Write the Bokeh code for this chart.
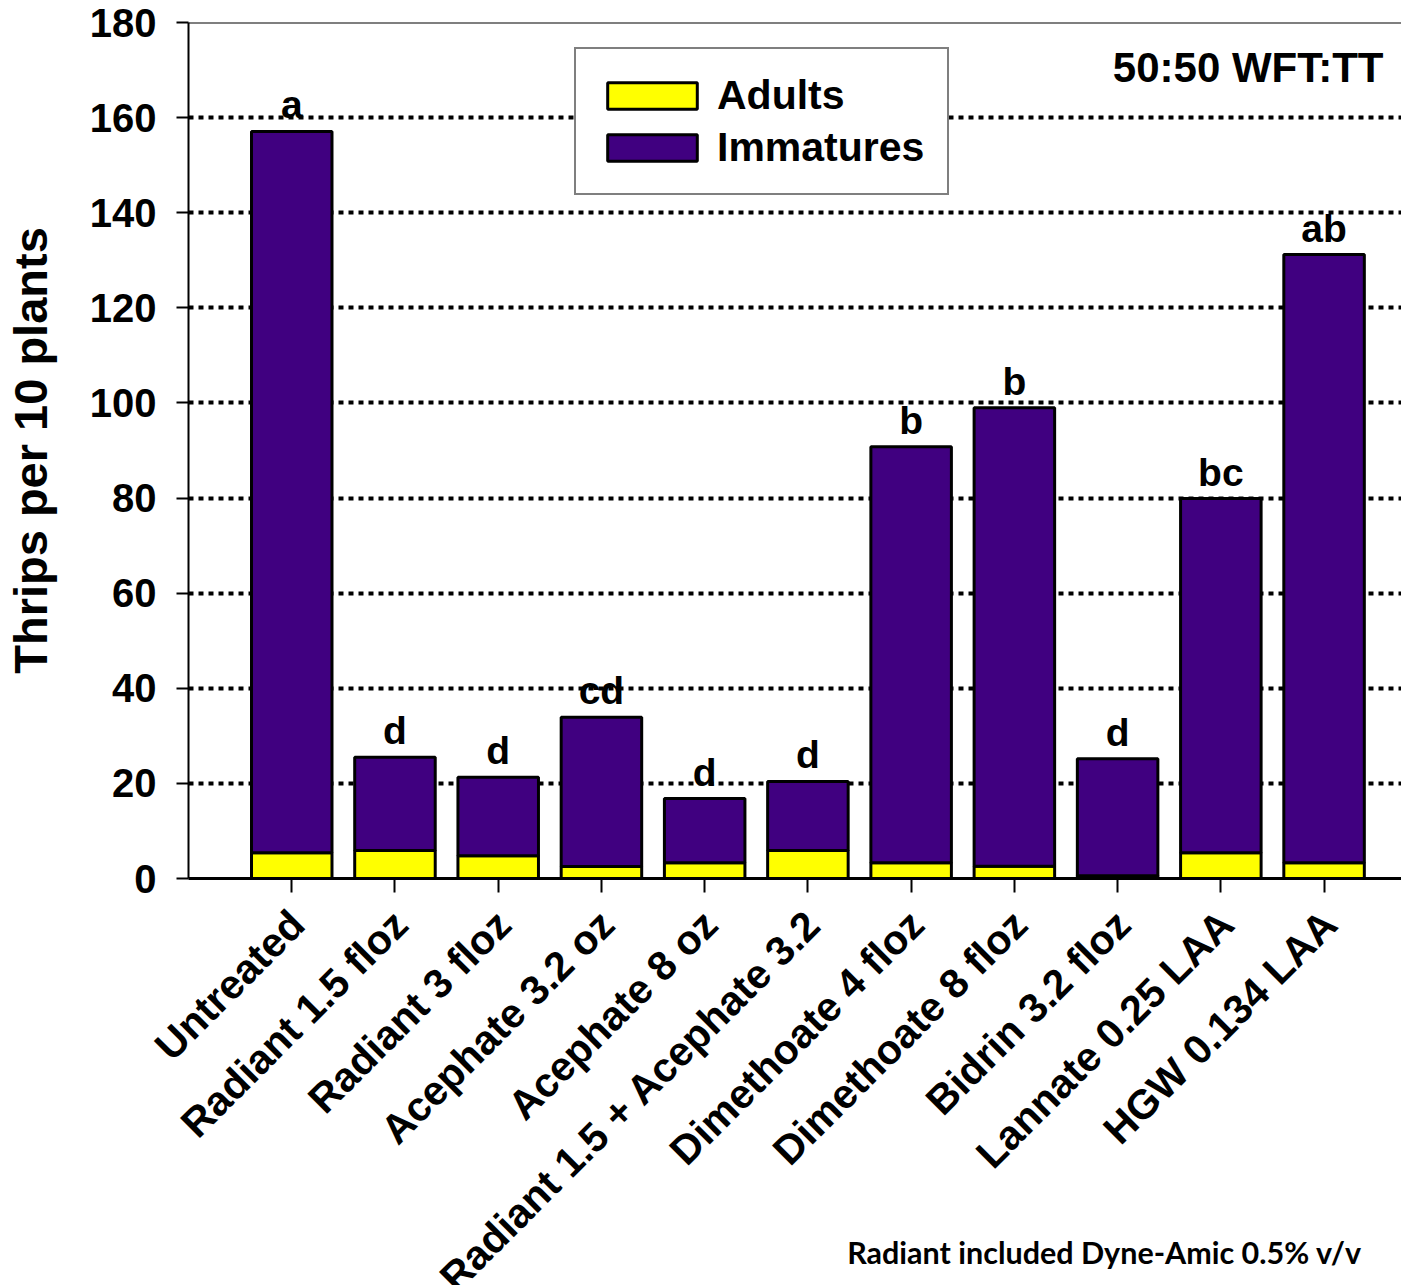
import math
from bokeh.plotting import figure
from bokeh.models import (ColumnDataSource, Range1d, SingleIntervalTicker, FixedTicker,
                          LabelSet, Label, Span, LinearAxis)
from bokeh.core.properties import value
from bokeh.embed import file_html
from bokeh.resources import INLINE

categories = ["Untreated", "Radiant 1.5 floz", "Radiant 3 floz", "Acephate 3.2 oz",
              "Acephate 8 oz", "Radiant 1.5 + Acephate 3.2", "Dimethoate 4 floz",
              "Dimethoate 8 floz", "Bidrin 3.2 floz", "Lannate 0.25 LAA", "HGW 0.134 LAA"]
adults = [5.4, 5.9, 4.8, 2.5, 3.3, 5.9, 3.3, 2.6, 0.6, 5.4, 3.3]
immatures = [151.7, 19.6, 16.5, 31.4, 13.5, 14.5, 87.5, 96.4, 24.6, 74.5, 127.9]
letters = ["a", "d", "d", "cd", "d", "d", "b", "b", "d", "bc", "ab"]
positions = list(range(1, 12))
y_ticks_interval = 20

FONT = "Liberation Sans"
ADULT_COLOR = "#FFFF00"
IMM_COLOR = "#400080"

totals = [a + i for a, i in zip(adults, immatures)]
src = ColumnDataSource(dict(x=positions, adults=adults, immatures=immatures,
                            total=totals, letter=letters))

p = figure(frame_width=1213, frame_height=856, x_range=Range1d(0, 11.75),
           y_range=Range1d(0, 180), output_backend="svg", toolbar_location=None,
           min_border_left=183, min_border_right=0, min_border_top=22, min_border_bottom=0)
p.outline_line_color = None
p.background_fill_color = "white"
p.border_fill_color = "white"

p.vbar_stack(["adults", "immatures"], x="x", width=0.78, source=src,
             color=[ADULT_COLOR, IMM_COLOR], line_color="black", line_width=3,
             legend_label=["Adults", "Immatures"])

# top frame line
p.add_layout(Span(location=180, dimension="width", line_color="black", line_width=2))

# grid
p.xgrid.grid_line_color = None
p.ygrid.grid_line_color = "black"
p.ygrid.grid_line_width = 4
p.ygrid.grid_line_dash = "5 5"

# y axis
yax = p.yaxis[0]
yax.ticker = SingleIntervalTicker(interval=y_ticks_interval)
yax.axis_line_width = 2
yax.major_tick_out = 12
yax.major_tick_in = 0
yax.major_tick_line_width = 2
yax.minor_tick_line_color = None
yax.major_label_text_font = FONT
yax.major_label_text_font_style = "bold"
yax.major_label_text_font_size = "40px"
yax.major_label_text_color = "black"
yax.major_label_standoff = 20
yax.axis_label = "Thrips per 10 plants"
yax.axis_label_text_font = FONT
yax.axis_label_text_font_style = "bold"
yax.axis_label_text_font_size = "47px"
yax.axis_label_text_color = "black"
yax.axis_label_standoff = 30

# x axis: ticks only
xax = p.xaxis[0]
xax.ticker = FixedTicker(ticks=positions)
xax.major_label_overrides = {k: "" for k in positions}
xax.major_label_text_font_size = "1px"
xax.major_label_standoff = 0
xax.axis_line_width = 3
xax.major_tick_out = 14
xax.major_tick_in = 0
xax.major_tick_line_width = 2
xax.minor_tick_line_color = None

# x axis: rotated category labels (shifted range so text ends just right of each tick)
p.extra_x_ranges = {"labels": Range1d(-0.055, 11.695)}
lab_ax = LinearAxis(x_range_name="labels", ticker=FixedTicker(ticks=positions),
                    major_label_overrides={k: c for k, c in zip(positions, categories)},
                    major_label_orientation=math.pi / 4,
                    axis_line_color=None, major_tick_line_color=None,
                    minor_tick_line_color=None, major_tick_out=0, major_tick_in=0,
                    major_label_standoff=25,
                    major_label_text_font=FONT, major_label_text_font_style="bold",
                    major_label_text_font_size="41px", major_label_text_color="black")
p.add_layout(lab_ax, "below")

# significance letters
p.add_layout(LabelSet(x="x", y="total", text="letter", source=src,
                      text_align="center", text_baseline="alphabetic", y_offset=13,
                      text_font=value(FONT), text_font_style="bold", text_font_size="39px",
                      text_color="black"))

# annotation texts
p.add_layout(Label(x=1195, y=811, x_units="screen", y_units="screen", text="50:50 WFT:TT",
                   text_align="right", text_baseline="alphabetic", text_font=FONT,
                   text_font_style="bold", text_font_size="42px", text_color="black"))
p.add_layout(Label(x=916, y=-78.6, x_units="screen", y_units="data",
                   text="Radiant included Dyne-Amic 0.5% v/v",
                   text_align="center", text_baseline="alphabetic", text_font="Lato",
                   text_font_style="bold", text_font_size="30.5px", text_color="black"),
             "below")

# legend
lg = p.legend[0]
lg.location = (386, 683)
lg.margin = 0
lg.padding = 20
lg.spacing = 0
lg.glyph_width = 112
lg.glyph_height = 33
lg.label_standoff = 9
lg.label_width = 210
lg.label_height = 52
lg.label_text_font = FONT
lg.label_text_font_style = "bold"
lg.label_text_font_size = "41px"
lg.label_text_color = "black"
lg.label_text_baseline = "middle"
lg.border_line_color = "black"
lg.border_line_width = 2
lg.background_fill_alpha = 1.0

open("out.html", "w").write(file_html(p, INLINE))
